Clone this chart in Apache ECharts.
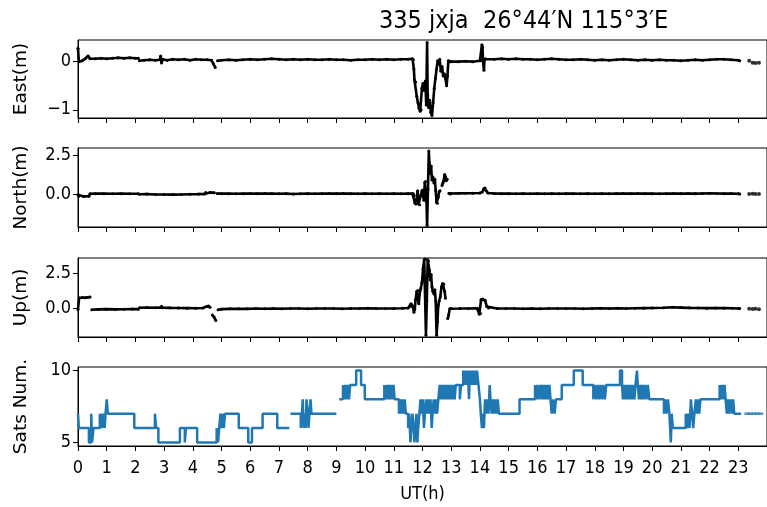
<!DOCTYPE html>
<html>
<head>
<meta charset="utf-8">
<script src="https://cdn.jsdelivr.net/npm/echarts@6/dist/echarts.min.js"></script>
<style>
  html, body { margin: 0; padding: 0; background: #fff; }
  #chart { width: 767px; height: 507px; }
</style>
</head>
<body>
<div id="chart"></div>
<script>
// Station header and panel labels
const stationTitle = '335 jxja  26°44′N 115°3′E';
const panelNames = ['East(m)', 'North(m)', 'Up(m)', 'Sats Num.'];
const timeAxisName = 'UT(h)';

// Hour ticks along the shared time axis
const hourTicks = [0, 1, 2, 3, 4, 5, 6, 7, 8, 9, 10, 11, 12, 13, 14, 15, 16, 17, 18, 19, 20, 21, 22, 23];

// Labelled y ticks for each panel
const eastTicks = [-1, 0];
const northTicks = [0, 2.5];
const upTicks = [0, 2.5];
const satsTicks = [5, 10];

// East displacement (m), [hour, value]; null breaks the trace
const eastSeries = [
  [0, 0.28], [0.03, 0.0], [0.15, 0.02], [0.25, 0.06], [0.35, 0.12], [0.42, 0.06], [0.6, 0.06], [0.8, 0.07],
  [1.0, 0.06], [1.2, 0.07], [1.4, 0.08], [1.6, 0.07], [1.8, 0.08], [2.0, 0.07], [2.1, 0.07],
  [2.12, null],
  [2.14, 0.02], [2.3, 0.03], [2.5, 0.04], [2.7, 0.03], [2.85, 0.04], [2.88, 0.12], [2.91, -0.03], [2.95, 0.05],
  [3.1, 0.03], [3.3, 0.05], [3.5, 0.04], [3.7, 0.05], [3.9, 0.03], [4.1, 0.05], [4.3, 0.04], [4.5, 0.04],
  [4.65, 0.03], [4.72, -0.05], [4.78, -0.12],
  [4.82, null],
  [4.86, 0.02], [5.0, 0.03], [5.25, 0.04], [5.5, 0.03], [5.75, 0.04], [6.0, 0.05], [6.25, 0.04], [6.5, 0.05],
  [6.75, 0.06], [7.0, 0.05], [7.25, 0.04], [7.5, 0.05], [7.75, 0.04], [8.0, 0.05], [8.25, 0.04], [8.5, 0.04],
  [8.75, 0.05], [9.0, 0.04], [9.25, 0.04], [9.5, 0.03], [9.75, 0.04], [10.0, 0.04], [10.25, 0.05], [10.5, 0.04],
  [10.75, 0.05], [11.0, 0.04], [11.25, 0.05], [11.5, 0.05], [11.65, 0.06],
  [11.68, 0.04], [11.70, -0.15], [11.72, -0.38], [11.76, -0.42], [11.80, -0.72], [11.84, -0.85], [11.88, -0.97],
  [11.92, -1.03], [11.95, -1.0], [11.98, -0.55], [12.02, -0.45], [12.06, -0.6], [12.10, -0.4], [12.13, -0.9],
  [12.16, 0.4], [12.18, -0.7], [12.21, -0.95], [12.25, -0.8], [12.29, -1.05], [12.33, -1.12], [12.37, -0.85],
  [12.41, -0.55], [12.45, -0.35], [12.49, -0.15], [12.53, 0.02], [12.57, -0.05], [12.60, 0.05], [12.64, -0.2],
  [12.68, -0.1], [12.72, -0.3], [12.76, -0.25], [12.80, -0.35], [12.84, -0.5], [12.87, -0.3], [12.90, 0.02],
  [12.95, 0.0], [13.0, 0.0], [13.25, 0.0], [13.5, 0.01], [13.75, 0.0], [14.0, 0.02],
  [14.05, 0.03], [14.07, 0.35], [14.09, 0.3], [14.11, 0.0], [14.14, -0.18], [14.16, 0.05], [14.2, 0.06],
  [14.5, 0.05], [14.75, 0.06], [15.0, 0.05], [15.25, 0.06], [15.5, 0.05], [15.75, 0.05], [16.0, 0.04],
  [16.25, 0.05], [16.5, 0.06], [16.75, 0.05], [17.0, 0.04], [17.25, 0.04], [17.5, 0.05], [17.75, 0.04],
  [18.0, 0.03], [18.25, 0.04], [18.5, 0.03], [18.75, 0.04], [19.0, 0.05], [19.25, 0.04], [19.5, 0.03],
  [19.75, 0.04], [20.0, 0.03], [20.25, 0.04], [20.5, 0.03], [20.75, 0.03], [21.0, 0.02], [21.25, 0.03],
  [21.5, 0.04], [21.75, 0.03], [22.0, 0.04], [22.25, 0.05], [22.5, 0.05], [22.75, 0.04], [23.0, 0.03], [23.05, 0.02]
];
const eastTail = [[23.38, 0.02], [23.5, -0.02], [23.6, -0.03], [23.72, -0.02]];

// North displacement (m)
const northSeries = [
  [0, -0.05], [0.03, -0.15], [0.2, -0.16], [0.38, -0.14], [0.42, 0.01], [0.6, 0.02], [0.9, 0.02], [1.2, 0.01],
  [1.5, 0.02], [1.8, 0.01], [2.1, 0.01],
  [2.12, null],
  [2.14, -0.02], [2.4, -0.01], [2.7, -0.03], [3.0, -0.03], [3.3, -0.04], [3.6, -0.03], [3.9, -0.02], [4.2, -0.01],
  [4.4, 0.0], [4.45, 0.1], [4.6, 0.1], [4.75, 0.08],
  [4.8, null],
  [4.85, 0.03], [5.0, 0.02], [5.25, 0.02], [5.5, 0.01], [5.75, 0.02], [6.0, 0.03], [6.25, 0.02], [6.5, 0.03],
  [6.75, 0.02], [7.0, 0.01], [7.25, 0.02], [7.5, 0.0], [7.75, 0.01], [8.0, 0.02], [8.25, 0.01], [8.5, 0.02],
  [8.75, 0.03], [9.0, 0.02], [9.25, 0.03], [9.5, 0.02], [9.75, 0.01], [10.0, 0.02], [10.25, 0.01], [10.5, 0.02],
  [10.75, 0.01], [11.0, 0.02], [11.25, 0.01], [11.5, 0.02], [11.65, 0.02],
  [11.68, 0.02], [11.71, -0.1], [11.74, -0.6], [11.77, -0.65], [11.80, -0.3], [11.83, 0.2], [11.86, -0.65],
  [11.90, -0.7], [11.94, -0.1], [11.98, 0.2], [12.02, 0.25], [12.05, -0.4], [12.08, 0.75], [12.11, 0.8],
  [12.14, -0.5], [12.16, -2.0], [12.19, 0.3], [12.22, 2.75], [12.24, 2.0], [12.27, 1.3], [12.30, 1.8],
  [12.33, 0.9], [12.36, 1.1], [12.40, 0.7], [12.43, 0.95], [12.46, 0.2], [12.49, -0.55], [12.52, -0.6],
  [12.55, -0.2], [12.58, 0.15], [12.61, 0.2],
  [12.64, null],
  [12.68, 0.55], [12.71, 0.7], [12.74, 0.85], [12.77, 1.25], [12.80, 1.1], [12.83, 0.85], [12.86, 0.95],
  [12.89, null],
  [12.92, 0.05], [12.96, 0.0], [13.0, 0.03], [13.25, 0.04], [13.5, 0.05], [13.75, 0.05], [14.0, 0.06],
  [14.08, 0.12], [14.14, 0.35], [14.18, 0.38], [14.22, 0.2], [14.28, 0.06], [14.5, 0.03], [14.75, 0.02],
  [15.0, 0.02], [15.25, 0.01], [15.5, 0.02], [15.75, 0.01], [16.0, 0.02], [16.25, 0.01], [16.5, 0.02],
  [16.75, 0.01], [17.0, 0.02], [17.25, 0.02], [17.5, 0.01], [17.75, 0.02], [18.0, 0.01], [18.25, 0.02],
  [18.5, 0.01], [18.75, 0.02], [19.0, 0.03], [19.25, 0.02], [19.5, 0.03], [19.75, 0.02], [20.0, 0.02],
  [20.25, 0.01], [20.5, 0.02], [20.75, 0.03], [21.0, 0.02], [21.25, 0.03], [21.5, 0.02], [21.75, 0.03],
  [22.0, 0.04], [22.25, 0.03], [22.5, 0.02], [22.75, 0.03], [23.0, 0.01], [23.05, 0.0]
];
const northTail = [[23.38, 0.0], [23.5, 0.01], [23.6, 0.0], [23.72, -0.01]];

// Up displacement (m)
const upSeries = [
  [0, -0.1], [0.04, 0.72], [0.15, 0.75], [0.25, 0.73], [0.35, 0.77], [0.42, 0.78],
  [0.45, null],
  [0.48, -0.12], [0.7, -0.1], [1.0, -0.08], [1.3, -0.1], [1.6, -0.09], [1.9, -0.07], [2.1, -0.08],
  [2.12, null],
  [2.14, 0.02], [2.4, 0.03], [2.7, 0.02], [2.88, 0.03], [2.91, 0.12], [2.95, 0.02], [3.2, 0.01], [3.5, 0.0],
  [3.8, -0.01], [4.1, -0.02], [4.35, 0.0], [4.5, 0.12], [4.55, 0.15], [4.6, 0.05],
  [4.64, null],
  [4.68, -0.5], [4.74, -0.65], [4.8, -0.9],
  [4.84, null],
  [4.88, -0.12], [5.0, -0.08], [5.3, -0.06], [5.6, -0.05], [5.9, -0.06], [6.2, -0.04], [6.5, -0.05],
  [6.8, -0.04], [7.1, -0.05], [7.4, -0.03], [7.7, -0.04], [8.0, -0.05], [8.3, -0.04], [8.6, -0.03],
  [8.9, -0.04], [9.2, -0.05], [9.5, -0.03], [9.8, -0.04], [10.1, -0.02], [10.4, -0.03], [10.7, -0.04],
  [11.0, -0.03], [11.3, -0.02], [11.5, 0.0],
  [11.56, 0.1], [11.6, 0.3], [11.64, 0.2], [11.67, 0.05], [11.70, -0.3], [11.73, -0.1], [11.76, 0.6],
  [11.80, 1.2], [11.84, 1.25], [11.87, 0.3], [11.90, 1.0], [11.94, 1.4], [11.98, 1.8], [12.02, 2.8],
  [12.06, 3.45], [12.09, 3.5], [12.12, -1.95], [12.15, 0.5], [12.18, 3.45], [12.21, 3.35], [12.24, 2.7],
  [12.27, 2.0], [12.30, 2.4], [12.33, 1.5], [12.36, 1.2], [12.40, 1.0], [12.43, 1.3], [12.46, 0.5],
  [12.49, -1.95], [12.52, -1.0], [12.55, 0.2], [12.58, 0.5], [12.62, 0.8], [12.66, 1.5], [12.70, 1.75],
  [12.74, 1.7], [12.77, 1.2], [12.80, 0.7],
  [12.84, null],
  [12.88, -0.75], [12.91, -0.5], [12.95, -0.05], [13.0, -0.03], [13.3, -0.04], [13.6, -0.03], [13.9, -0.02],
  [13.95, -0.05], [13.98, -0.45], [14.02, -0.4], [14.04, 0.6], [14.1, 0.65], [14.18, 0.55], [14.24, 0.1],
  [14.3, 0.0], [14.6, -0.03], [14.9, -0.04], [15.2, -0.03], [15.5, -0.05], [15.8, -0.04], [16.1, -0.05],
  [16.4, -0.03], [16.7, -0.04], [17.0, -0.03], [17.3, -0.04], [17.6, -0.05], [17.9, -0.03], [18.2, -0.02],
  [18.5, -0.03], [18.8, -0.02], [19.1, -0.03], [19.4, -0.02], [19.7, -0.01], [20.0, 0.0], [20.4, 0.02],
  [20.7, 0.05], [21.0, 0.03], [21.3, 0.01], [21.6, 0.0], [21.9, -0.01], [22.2, 0.0], [22.5, -0.01],
  [22.8, -0.02], [23.0, -0.03], [23.05, -0.04]
];
const upTail = [[23.38, -0.05], [23.5, -0.07], [23.6, -0.06], [23.72, -0.08]];

// Number of tracked satellites, [hour, count] held until the next entry
const satsSeries = [
  [0, 7], [0.03, 6], [0.38, 5], [0.46, 7], [0.49, 5], [0.54, 6], [0.76, 7], [0.8, 6], [0.84, 7], [0.87, 6],
  [0.9, 7], [0.93, 6], [0.96, 7], [1.0, 8], [1.04, 7], [1.96, 6], [2.68, 7], [2.72, 6], [2.8, 5], [3.55, 6],
  [3.72, 5], [3.76, 6], [4.15, 5], [4.83, 6], [4.88, 5], [4.92, 6], [4.96, 7], [5.0, 6], [5.04, 7], [5.08, 6],
  [5.12, 7], [5.6, 6], [5.93, 5], [6.06, 6], [6.43, 7], [6.94, 6], [7.36, 6],
  [7.37, null],
  [7.4, 7], [7.76, 6], [7.8, 7], [7.83, 8], [7.86, 6], [7.9, 7], [7.93, 6], [7.96, 8], [8.0, 7], [8.03, 6],
  [8.06, 7], [8.1, 8], [8.13, 7], [9.0, 7],
  [9.02, null],
  [9.1, 8], [9.23, 9], [9.27, 8], [9.31, 9], [9.35, 8], [9.39, 9], [9.44, 8], [9.48, 9], [9.69, 10], [9.86, 9],
  [9.99, 8], [10.67, 9], [10.71, 8], [10.75, 9], [10.79, 8], [10.83, 9], [10.87, 8], [10.91, 9], [10.95, 8],
  [10.99, 9], [11.03, 8], [11.18, 7], [11.22, 8], [11.26, 7], [11.3, 8], [11.34, 7], [11.38, 8], [11.42, 7],
  [11.5, 6], [11.54, 7], [11.58, 5], [11.61, 6], [11.65, 7], [11.69, 6], [11.72, 5], [11.75, 6], [11.79, 7],
  [11.82, 5], [11.85, 6], [11.89, 7], [11.93, 8], [11.97, 7], [12.01, 8], [12.05, 6], [12.08, 7], [12.12, 8],
  [12.16, 7], [12.2, 8], [12.24, 7], [12.28, 8], [12.32, 6], [12.35, 7], [12.39, 8], [12.43, 7], [12.47, 8],
  [12.51, 7], [12.55, 8], [12.6, 9], [12.64, 8], [12.68, 9], [12.72, 8], [12.76, 9], [12.8, 8], [12.84, 9],
  [12.88, 8], [12.92, 9], [12.96, 8], [13.0, 9], [13.04, 8], [13.08, 9], [13.12, 8], [13.16, 9], [13.3, 8],
  [13.34, 9], [13.42, 10], [13.46, 9], [13.5, 10], [13.54, 9], [13.58, 10], [13.62, 8], [13.65, 10], [13.7, 9],
  [13.74, 10], [13.78, 9], [13.82, 10], [13.86, 9], [13.9, 10], [13.95, 9], [14.0, 8], [14.03, 7], [14.07, 6],
  [14.1, 7], [14.14, 6], [14.18, 8], [14.22, 7], [14.26, 8], [14.3, 7], [14.34, 9], [14.37, 8], [14.41, 7],
  [14.45, 8], [14.49, 7], [14.53, 8], [14.57, 7], [14.62, 8], [14.66, 7], [15.38, 8], [15.92, 9], [15.96, 8],
  [16.0, 9], [16.04, 8], [16.1, 9], [16.14, 8], [16.18, 9], [16.22, 8], [16.26, 9], [16.3, 8], [16.34, 9],
  [16.38, 8], [16.42, 9], [16.46, 8], [16.5, 7], [16.55, 8], [16.6, 7], [16.65, 8], [16.85, 9], [17.27, 10],
  [17.58, 9], [17.95, 8], [18.0, 9], [18.05, 8], [18.1, 9], [18.15, 8], [18.2, 9], [18.25, 8], [18.3, 9],
  [18.35, 8], [18.4, 9], [18.88, 10], [18.95, 9], [18.98, 8], [19.02, 9], [19.06, 8], [19.1, 9], [19.14, 8],
  [19.18, 9], [19.22, 8], [19.26, 9], [19.3, 8], [19.34, 9], [19.38, 8], [19.42, 9], [19.47, 10], [19.5, 9],
  [19.54, 8], [19.58, 9], [19.62, 8], [19.66, 9], [19.7, 8], [19.75, 9], [19.8, 8], [19.85, 9], [19.9, 8],
  [20.41, 7], [20.45, 8], [20.5, 7], [20.55, 8], [20.6, 7], [20.65, 5], [20.68, 7], [20.72, 6], [21.17, 7],
  [21.21, 6], [21.25, 7], [21.3, 6], [21.35, 8], [21.39, 7], [21.43, 6], [21.47, 7], [21.52, 8], [21.56, 7],
  [21.6, 8], [21.64, 7], [21.68, 8], [22.35, 9], [22.39, 8], [22.43, 9], [22.47, 8], [22.52, 9], [22.56, 8],
  [22.6, 7], [22.64, 8], [22.68, 7], [22.73, 8], [22.78, 7], [22.82, 8], [22.86, 7], [23.1, 7]
];
const satsTail = [[23.3, 7], [23.42, 7], [23.55, 7], [23.65, 7], [23.78, 7]];

// ---- layout ----
const PLOT_LEFT = 78;
const PLOT_WIDTH = 694;       // 0–24 h; the 24 h end sits just past the canvas edge
const panelTops = [40, 148, 258, 367];
const panelHeights = [78, 79, 79, 79];
const yLimits = [[-1.17, 0.45], [-2.12, 2.95], [-2.07, 3.57], [4.75, 10.25]];
const yTickSets = [eastTicks, northTicks, upTicks, satsTicks];
const yFormatters = [
  v => (v < 0 ? '\u2212' + Math.abs(v) : String(v)),
  v => (v < 0 ? '\u2212' : '') + Math.abs(v).toFixed(1),
  v => (v < 0 ? '\u2212' : '') + Math.abs(v).toFixed(1),
  v => String(v)
];

const FONT = "'DejaVu Sans', sans-serif";
const FONT_NARROW = "'DejaVu Sans Condensed', 'DejaVu Sans', sans-serif";
const black = '#000';

const grids = panelTops.map((top, i) => ({
  left: PLOT_LEFT, width: PLOT_WIDTH, top: top, height: panelHeights[i],
  show: true, borderColor: black, borderWidth: 1, backgroundColor: 'transparent'
}));

const xAxes = panelTops.map((_, i) => ({
  type: 'value', gridIndex: i, min: 0, max: 24, interval: 1,
  axisLine: { show: true, onZero: false, lineStyle: { color: black, width: 1 } },
  axisTick: { show: true, length: 5, inside: false, lineStyle: { color: black, width: 1 }, customValues: hourTicks },
  axisLabel: {
    show: i === 3, customValues: hourTicks, color: black, fontFamily: FONT_NARROW, fontSize: 18, margin: 13
  },
  splitLine: { show: false },
  name: i === 3 ? timeAxisName : '',
  nameLocation: 'middle', nameGap: 39,
  nameTextStyle: { color: black, fontFamily: FONT_NARROW, fontSize: 18 }
}));

const yAxes = panelTops.map((_, i) => ({
  type: 'value', gridIndex: i, min: yLimits[i][0], max: yLimits[i][1],
  axisLine: { show: true, onZero: false, lineStyle: { color: black, width: 1 } },
  axisTick: { show: true, length: 5, lineStyle: { color: black, width: 1 }, customValues: yTickSets[i] },
  axisLabel: {
    show: true, customValues: yTickSets[i], formatter: yFormatters[i],
    color: black, fontFamily: FONT_NARROW, fontSize: 18, margin: 7
  },
  splitLine: { show: false },
  name: panelNames[i], nameLocation: 'middle', nameGap: 47, nameRotate: 90,
  nameTextStyle: { color: black, fontFamily: FONT, fontSize: 18.5 }
}));

function trace(data, idx) {
  return {
    type: 'line', xAxisIndex: idx, yAxisIndex: idx, data: data,
    connectNulls: false, showSymbol: true, showAllSymbol: true, symbol: 'circle', symbolSize: 3,
    lineStyle: { color: black, width: 2.6 }, itemStyle: { color: black },
    emphasis: { disabled: true }, silent: true, animation: false
  };
}
function dots(data, idx, color, symbol, size) {
  return {
    type: 'scatter', xAxisIndex: idx, yAxisIndex: idx, data: data,
    symbol: symbol, symbolSize: size, itemStyle: { color: color },
    silent: true, animation: false
  };
}

const series = [
  trace(eastSeries, 0), dots(eastTail, 0, black, 'circle', 4),
  trace(northSeries, 1), dots(northTail, 1, black, 'circle', 4),
  trace(upSeries, 2), dots(upTail, 2, black, 'circle', 4),
  {
    type: 'line', xAxisIndex: 3, yAxisIndex: 3, data: satsSeries, step: 'end',
    connectNulls: false, showSymbol: false,
    lineStyle: { color: '#1f77b4', width: 2.5 }, itemStyle: { color: '#1f77b4' },
    silent: true, animation: false
  },
  dots(satsTail, 3, '#1f77b4', 'rect', [5, 2.5])
];

const chart = echarts.init(document.getElementById('chart'), null, { renderer: 'canvas' });
chart.setOption({
  backgroundColor: '#fff',
  animation: false,
  title: {
    text: stationTitle, left: 374, top: 4,
    textStyle: { color: black, fontFamily: FONT_NARROW, fontSize: 25, fontWeight: 'normal' }
  },
  grid: grids,
  xAxis: xAxes,
  yAxis: yAxes,
  series: series
});
</script>
</body>
</html>
